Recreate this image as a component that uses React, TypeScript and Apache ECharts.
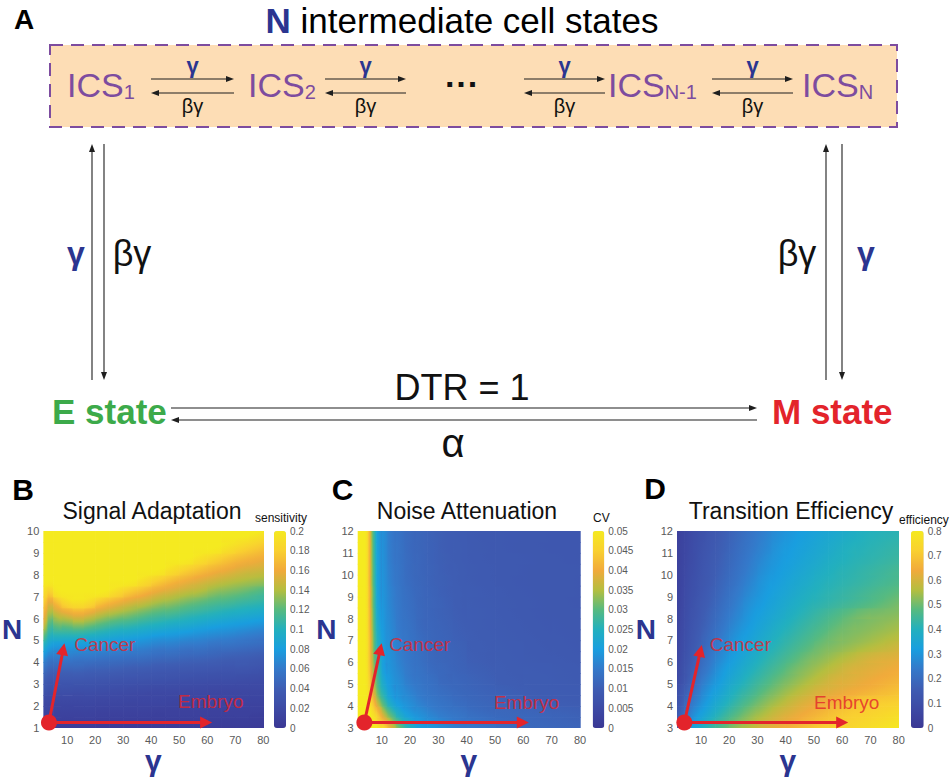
import React, { useEffect, useRef } from 'react';
import * as echarts from 'echarts';

// ---------- Panel B: Signal Adaptation (sensitivity), columns along gamma, values bottom (N=1) -> top (N=10)
const gammaEdgesB = [1.5, 3, 5, 8, 12, 16, 20, 25, 30, 35, 40, 45, 50, 55, 60, 65, 70, 75, 80];
const nEdgesB = [1, 1.5, 2, 2.5, 3, 3.5, 4, 4.5, 5, 5.5, 6, 6.5, 7, 7.5, 8, 8.5, 9, 9.5, 10];
const sensitivityByGamma = [
  [0.008, 0.014, 0.019, 0.029, 0.039, 0.053, 0.07, 0.093, 0.118, 0.142, 0.158, 0.173, 0.188, 0.2, 0.2, 0.2, 0.2, 0.2],
  [0.008, 0.013, 0.018, 0.026, 0.035, 0.047, 0.062, 0.082, 0.102, 0.118, 0.138, 0.158, 0.183, 0.2, 0.2, 0.2, 0.2, 0.2],
  [0.008, 0.013, 0.018, 0.026, 0.035, 0.047, 0.062, 0.078, 0.103, 0.126, 0.148, 0.173, 0.198, 0.2, 0.2, 0.2, 0.2, 0.2],
  [0.008, 0.013, 0.018, 0.026, 0.035, 0.047, 0.062, 0.078, 0.103, 0.128, 0.157, 0.188, 0.2, 0.2, 0.2, 0.2, 0.2, 0.2],
  [0.008, 0.013, 0.018, 0.025, 0.035, 0.047, 0.06, 0.078, 0.103, 0.133, 0.163, 0.193, 0.2, 0.2, 0.2, 0.2, 0.2, 0.2],
  [0.008, 0.013, 0.018, 0.025, 0.034, 0.045, 0.059, 0.076, 0.1, 0.128, 0.157, 0.188, 0.2, 0.2, 0.2, 0.2, 0.2, 0.2],
  [0.007, 0.012, 0.017, 0.024, 0.033, 0.044, 0.057, 0.075, 0.096, 0.12, 0.146, 0.174, 0.2, 0.2, 0.2, 0.2, 0.2, 0.2],
  [0.007, 0.012, 0.017, 0.023, 0.032, 0.043, 0.056, 0.072, 0.091, 0.113, 0.138, 0.163, 0.19, 0.2, 0.2, 0.2, 0.2, 0.2],
  [0.007, 0.012, 0.016, 0.022, 0.031, 0.041, 0.054, 0.069, 0.088, 0.109, 0.131, 0.153, 0.178, 0.2, 0.2, 0.2, 0.2, 0.2],
  [0.007, 0.012, 0.016, 0.021, 0.03, 0.04, 0.053, 0.067, 0.084, 0.104, 0.124, 0.146, 0.168, 0.191, 0.2, 0.2, 0.2, 0.2],
  [0.007, 0.011, 0.016, 0.02, 0.029, 0.038, 0.05, 0.063, 0.08, 0.1, 0.118, 0.138, 0.158, 0.18, 0.2, 0.2, 0.2, 0.2],
  [0.007, 0.011, 0.015, 0.02, 0.028, 0.037, 0.049, 0.062, 0.078, 0.096, 0.115, 0.133, 0.151, 0.17, 0.191, 0.2, 0.2, 0.2],
  [0.007, 0.011, 0.015, 0.019, 0.027, 0.036, 0.047, 0.059, 0.075, 0.093, 0.11, 0.127, 0.145, 0.162, 0.182, 0.2, 0.2, 0.2],
  [0.007, 0.011, 0.015, 0.019, 0.026, 0.035, 0.046, 0.058, 0.072, 0.089, 0.106, 0.122, 0.14, 0.155, 0.173, 0.192, 0.2, 0.2],
  [0.007, 0.011, 0.015, 0.018, 0.025, 0.034, 0.044, 0.055, 0.069, 0.085, 0.102, 0.117, 0.133, 0.149, 0.165, 0.184, 0.2, 0.2],
  [0.007, 0.011, 0.015, 0.018, 0.025, 0.033, 0.042, 0.054, 0.067, 0.082, 0.098, 0.114, 0.129, 0.144, 0.159, 0.175, 0.193, 0.2],
  [0.007, 0.011, 0.014, 0.018, 0.024, 0.033, 0.041, 0.052, 0.064, 0.079, 0.095, 0.11, 0.125, 0.14, 0.153, 0.168, 0.185, 0.2],
  [0.006, 0.01, 0.014, 0.018, 0.023, 0.031, 0.039, 0.05, 0.061, 0.076, 0.092, 0.107, 0.12, 0.137, 0.15, 0.163, 0.178, 0.194],
];

// ---------- Panel C: Noise Attenuation (CV), rows along N (3 -> 12), values left (gamma small) -> right
const gammaEdgesC = [1.5, 3, 5, 6, 7, 8, 10, 12, 15, 18, 22, 26, 30, 35, 40, 50, 60, 70, 80];
const nEdgesC = [3, 3.5, 4, 4.5, 5, 5.5, 6, 6.5, 7, 7.5, 8, 8.5, 9, 9.5, 10, 10.5, 11, 11.5, 12];
const cvByN = [
  [0.05, 0.05, 0.05, 0.05, 0.05, 0.046, 0.042, 0.035, 0.028, 0.023, 0.0195, 0.018, 0.0164, 0.0149, 0.0138, 0.0123, 0.0117, 0.0112],
  [0.05, 0.05, 0.05, 0.048, 0.0453, 0.0408, 0.0336, 0.0274, 0.0222, 0.0191, 0.0174, 0.0158, 0.0146, 0.0137, 0.0124, 0.0117, 0.0112, 0.0107],
  [0.05, 0.05, 0.048, 0.0445, 0.04, 0.0333, 0.0272, 0.0217, 0.019, 0.0174, 0.0156, 0.0144, 0.0135, 0.0125, 0.0116, 0.0109, 0.0101, 0.0098],
  [0.05, 0.05, 0.0465, 0.0411, 0.0358, 0.0289, 0.0237, 0.0194, 0.0179, 0.0161, 0.0146, 0.0136, 0.0126, 0.0118, 0.0111, 0.0103, 0.0098, 0.0096],
  [0.05, 0.05, 0.0455, 0.0389, 0.0331, 0.0272, 0.0214, 0.0189, 0.0171, 0.0151, 0.014, 0.013, 0.0119, 0.0115, 0.0107, 0.0099, 0.0097, 0.0094],
  [0.05, 0.05, 0.0447, 0.0381, 0.0316, 0.0259, 0.0199, 0.0183, 0.0164, 0.0146, 0.0135, 0.0124, 0.0117, 0.0111, 0.0103, 0.0098, 0.0096, 0.0093],
  [0.05, 0.05, 0.0443, 0.0372, 0.0303, 0.0248, 0.0196, 0.0179, 0.0158, 0.0143, 0.0131, 0.0119, 0.0114, 0.0109, 0.01, 0.0097, 0.0093, 0.009],
  [0.05, 0.05, 0.0442, 0.0364, 0.0296, 0.0238, 0.0193, 0.0175, 0.0154, 0.0141, 0.0128, 0.0118, 0.0113, 0.0107, 0.0099, 0.0096, 0.0092, 0.0089],
  [0.05, 0.05, 0.0439, 0.0362, 0.0292, 0.0231, 0.0191, 0.0172, 0.015, 0.0138, 0.0124, 0.0116, 0.0111, 0.0104, 0.0098, 0.0094, 0.009, 0.0088],
  [0.05, 0.05, 0.0433, 0.0352, 0.0285, 0.022, 0.0188, 0.0168, 0.0147, 0.0135, 0.012, 0.0115, 0.0109, 0.0102, 0.0097, 0.0093, 0.0089, 0.0087],
  [0.05, 0.05, 0.0433, 0.035, 0.0281, 0.0212, 0.0186, 0.0165, 0.0145, 0.0132, 0.0119, 0.0113, 0.0107, 0.01, 0.0097, 0.0092, 0.0088, 0.0087],
  [0.05, 0.05, 0.0429, 0.0343, 0.0276, 0.0205, 0.0184, 0.0162, 0.0144, 0.013, 0.0118, 0.0112, 0.0106, 0.0099, 0.0096, 0.0091, 0.0088, 0.0086],
  [0.05, 0.05, 0.0429, 0.0343, 0.0275, 0.02, 0.0182, 0.016, 0.0142, 0.0128, 0.0117, 0.0111, 0.0104, 0.0099, 0.0095, 0.009, 0.0087, 0.0086],
  [0.05, 0.05, 0.0425, 0.0336, 0.0269, 0.0199, 0.018, 0.0156, 0.014, 0.0125, 0.0116, 0.0109, 0.0103, 0.0098, 0.0093, 0.0089, 0.0087, 0.0086],
  [0.05, 0.05, 0.0425, 0.0336, 0.0268, 0.0198, 0.0178, 0.0154, 0.0139, 0.0124, 0.0115, 0.0109, 0.0102, 0.0098, 0.0093, 0.0089, 0.0087, 0.0086],
  [0.05, 0.05, 0.0425, 0.0333, 0.0265, 0.0197, 0.0177, 0.0151, 0.0138, 0.0123, 0.0115, 0.0108, 0.0101, 0.0097, 0.0092, 0.0089, 0.0087, 0.0085],
  [0.05, 0.05, 0.0425, 0.0333, 0.0264, 0.0196, 0.0176, 0.015, 0.0137, 0.0122, 0.0114, 0.0108, 0.01, 0.0097, 0.0091, 0.0088, 0.0086, 0.0085],
  [0.05, 0.05, 0.0425, 0.033, 0.0263, 0.0195, 0.0175, 0.0149, 0.0136, 0.0121, 0.0114, 0.0107, 0.01, 0.0096, 0.009, 0.0088, 0.0086, 0.0085],
];

// ---------- Panel D: Transition Efficiency, rows along N (3 -> 12)
const gammaEdgesD = [1.5, 4, 7, 10, 15, 20, 25, 30, 35, 40, 45, 50, 55, 60, 65, 70, 75, 80];
const nEdgesD = [3, 3.5, 4, 4.5, 5, 5.5, 6, 6.5, 7, 7.5, 8, 8.5, 9, 9.5, 10, 10.5, 11, 11.5, 12];
const efficiencyByN = [
  [0.204, 0.279, 0.335, 0.396, 0.456, 0.51, 0.55, 0.59, 0.619, 0.644, 0.67, 0.695, 0.712, 0.727, 0.742, 0.757, 0.772],
  [0.166, 0.233, 0.295, 0.35, 0.413, 0.466, 0.513, 0.55, 0.587, 0.615, 0.639, 0.662, 0.686, 0.705, 0.718, 0.731, 0.744],
  [0.14, 0.204, 0.257, 0.318, 0.376, 0.428, 0.474, 0.515, 0.549, 0.583, 0.611, 0.633, 0.654, 0.676, 0.698, 0.706, 0.712],
  [0.124, 0.176, 0.228, 0.292, 0.347, 0.4, 0.441, 0.482, 0.517, 0.548, 0.578, 0.604, 0.619, 0.634, 0.648, 0.663, 0.678],
  [0.1, 0.151, 0.206, 0.264, 0.324, 0.371, 0.415, 0.452, 0.489, 0.519, 0.547, 0.575, 0.601, 0.614, 0.627, 0.64, 0.653],
  [0.093, 0.137, 0.185, 0.241, 0.304, 0.348, 0.391, 0.428, 0.462, 0.497, 0.523, 0.548, 0.573, 0.598, 0.611, 0.622, 0.634],
  [0.086, 0.126, 0.17, 0.223, 0.282, 0.328, 0.368, 0.406, 0.438, 0.47, 0.501, 0.523, 0.545, 0.567, 0.589, 0.604, 0.613],
  [0.08, 0.118, 0.156, 0.207, 0.262, 0.311, 0.348, 0.385, 0.417, 0.446, 0.475, 0.502, 0.518, 0.534, 0.55, 0.566, 0.582],
  [0.076, 0.113, 0.147, 0.193, 0.244, 0.295, 0.331, 0.366, 0.4, 0.427, 0.453, 0.48, 0.503, 0.516, 0.528, 0.541, 0.554],
  [0.07, 0.107, 0.139, 0.18, 0.229, 0.276, 0.316, 0.348, 0.381, 0.41, 0.435, 0.459, 0.484, 0.504, 0.514, 0.524, 0.535],
  [0.067, 0.102, 0.131, 0.17, 0.217, 0.261, 0.304, 0.334, 0.363, 0.393, 0.417, 0.44, 0.462, 0.484, 0.502, 0.509, 0.517],
  [0.063, 0.097, 0.125, 0.161, 0.205, 0.248, 0.291, 0.321, 0.349, 0.376, 0.402, 0.418, 0.434, 0.449, 0.465, 0.481, 0.497],
  [0.061, 0.092, 0.119, 0.153, 0.195, 0.236, 0.276, 0.311, 0.336, 0.361, 0.387, 0.407, 0.421, 0.435, 0.449, 0.464, 0.478],
  [0.058, 0.087, 0.114, 0.145, 0.185, 0.224, 0.264, 0.302, 0.325, 0.349, 0.372, 0.396, 0.41, 0.422, 0.434, 0.447, 0.459],
  [0.057, 0.083, 0.109, 0.14, 0.177, 0.215, 0.252, 0.29, 0.316, 0.338, 0.36, 0.382, 0.402, 0.414, 0.426, 0.437, 0.449],
  [0.054, 0.079, 0.105, 0.135, 0.171, 0.207, 0.243, 0.278, 0.308, 0.328, 0.349, 0.369, 0.39, 0.405, 0.415, 0.425, 0.435],
  [0.053, 0.076, 0.102, 0.13, 0.165, 0.2, 0.234, 0.267, 0.3, 0.32, 0.339, 0.359, 0.379, 0.398, 0.408, 0.417, 0.426],
  [0.05, 0.073, 0.098, 0.125, 0.159, 0.193, 0.226, 0.258, 0.29, 0.312, 0.331, 0.349, 0.367, 0.385, 0.401, 0.409, 0.416],
];

// ---------- ticks, colour-bar ranges, annotations
const gammaTicks = [10, 20, 30, 40, 50, 60, 70, 80];
const colorbarMax = [0.2, 0.05, 0.8];
const colorbarStep = [0.02, 0.005, 0.1];
const nRanges = [[1, 10], [3, 12], [3, 12]];
const startPoints = [[3.5, 1.25], [3.85, 3.25], [4.1, 3.25]];
const cancerTips = [[8.6, 4.6], [9.5, 6.6], [9.8, 6.52]];
const embryoTips = [[59.6, 1.25], [59.8, 3.25], [60, 3.25]];
const cancerLabelAt = [[12.5, 4.8], [12.6, 6.8], [13.1, 6.8]];
const embryoLabelAt = [[49.6, 2.19], [49.6, 4.15], [50, 4.15]];
const panelTitles = ['Signal Adaptation', 'Noise Attenuation', 'Transition Efficiency'];
const colorbarTitles = ['sensitivity', 'CV', 'efficiency'];
const panelLetters = ['B', 'C', 'D'];

const FONT = '"Liberation Sans", Arial, Helvetica, sans-serif';
const NAVY = '#2B3590';
const PURPLE = '#7D4C9F';
const RED = '#E3242B';
const GREEN = '#3CAA4A';
const INK = '#1e1e1e';
const PARULA = ['#3a3794', '#3d4aa5', '#3e5db3', '#3479ca', '#199edf', '#22b0be', '#56ba80', '#b4be3f', '#f1aa3b', '#f9d030', '#f5ea20'];

const PARULA_RGB = PARULA.map((h) => [1, 3, 5].map((o) => parseInt(h.slice(o, o + 2), 16)));
function colorAt(t: number) {
  const c = Math.max(0, Math.min(1, t)) * (PARULA_RGB.length - 1);
  const i = Math.min(PARULA_RGB.length - 2, Math.floor(c));
  const f = c - i;
  const a = PARULA_RGB[i], b = PARULA_RGB[i + 1];
  return `rgb(${[0, 1, 2].map((k) => Math.round(a[k] + (b[k] - a[k]) * f)).join(',')})`;
}

type Panel = { gE: number[]; nE: number[]; at: (i: number, j: number) => number; max: number };
const panels: Panel[] = [
  { gE: gammaEdgesB, nE: nEdgesB, at: (i, j) => sensitivityByGamma[i][j], max: colorbarMax[0] },
  { gE: gammaEdgesC, nE: nEdgesC, at: (i, j) => cvByN[j][i], max: colorbarMax[1] },
  { gE: gammaEdgesD, nE: nEdgesD, at: (i, j) => efficiencyByN[j][i], max: colorbarMax[2] },
];

function cellsOf(p: Panel) {
  const out: number[][] = [];
  for (let j = 0; j < p.nE.length - 1; j++)
    for (let i = 0; i < p.gE.length - 1; i++) out.push([p.gE[i], p.gE[i + 1], p.nE[j], p.nE[j + 1], p.at(i, j), i, j]);
  return out;
}

// each cell is filled with a shading that follows the local slope between neighbouring cells
function makeRender(p: Panel) {
  const nx = p.gE.length - 1, ny = p.nE.length - 1;
  const gc = (i: number) => (p.gE[i] + p.gE[i + 1]) / 2;
  const nc = (j: number) => (p.nE[j] + p.nE[j + 1]) / 2;
  return (_params: any, api: any) => {
    const g0 = api.value(0), g1 = api.value(1), n0 = api.value(2), n1 = api.value(3);
    const v = api.value(4), i = api.value(5), j = api.value(6);
    const p0 = api.coord([g0, n1]);
    const p1 = api.coord([g1, n0]);
    const w = p1[0] - p0[0], h = p1[1] - p0[1];
    const sx = w / (g1 - g0), sy = h / (n1 - n0);
    const iL = Math.max(0, i - 1), iR = Math.min(nx - 1, i + 1);
    const jB = Math.max(0, j - 1), jT = Math.min(ny - 1, j + 1);
    const dg = (p.at(iR, j) - p.at(iL, j)) / (gc(iR) - gc(iL));
    const dn = (p.at(i, jT) - p.at(i, jB)) / (nc(jT) - nc(jB));
    const gx = dg / sx, gy = -dn / sy;
    const gm = Math.hypot(gx, gy);
    let fill: any = colorAt(v / p.max);
    if (gm > 1e-9) {
      const ux = gx / gm, uy = gy / gm;
      const L = Math.abs(ux) * w / 2 + Math.abs(uy) * h / 2;
      const cx = p0[0] + w / 2, cy = p0[1] + h / 2;
      const dv = gm * L;
      const stops = [0, 0.25, 0.5, 0.75, 1].map((o) => ({ offset: o, color: colorAt((v + (o * 2 - 1) * dv) / p.max) }));
      fill = new echarts.graphic.LinearGradient(cx - ux * L, cy - uy * L, cx + ux * L, cy + uy * L, stops, true);
    }
    return {
      type: 'rect',
      shape: { x: p0[0], y: p0[1], width: w + 0.7, height: h + 0.7 },
      style: { fill },
    };
  };
}

// ---------- layout of panels B-D
const plotBoxes = [
  { left: 40.7, top: 531, width: 222.6, height: 197 },
  { left: 357.7, top: 531, width: 222.3, height: 197 },
  { left: 677, top: 531, width: 221.7, height: 197 },
];
const barBoxes = [
  { left: 274, top: 531, width: 12, height: 197 },
  { left: 592.7, top: 531, width: 11.6, height: 197 },
  { left: 911, top: 531, width: 12.7, height: 197 },
];

function text(str: string, x: number, y: number, o: any = {}) {
  return {
    type: 'text', x, y, silent: true, scaleX: o.sx ?? 1,
    style: {
      text: str, fontFamily: FONT, fontSize: o.size ?? 20, fontWeight: o.bold ? 'bold' : 'normal',
      fill: o.color ?? INK, align: o.align ?? 'center', verticalAlign: 'middle', rich: o.rich,
    },
  };
}
function arrowH(xFrom: number, xTo: number, y: number) {
  const d = Math.sign(xTo - xFrom);
  return [
    { type: 'line', silent: true, shape: { x1: xFrom, y1: y, x2: xTo - d * 4, y2: y }, style: { stroke: INK, lineWidth: 1.1 } },
    { type: 'polygon', silent: true, shape: { points: [[xTo, y], [xTo - d * 8, y - 3], [xTo - d * 8, y + 3]] }, style: { fill: INK } },
  ];
}
function arrowV(x: number, yFrom: number, yTo: number) {
  const d = Math.sign(yTo - yFrom);
  return [
    { type: 'line', silent: true, shape: { x1: x, y1: yFrom, x2: x, y2: yTo - d * 4 }, style: { stroke: INK, lineWidth: 1.1 } },
    { type: 'polygon', silent: true, shape: { points: [[x, yTo], [x - 3, yTo - d * 8], [x + 3, yTo - d * 8]] }, style: { fill: INK } },
  ];
}
function ics(sub: string, x: number) {
  return text(`{m|ICS}{s|${sub}}`, x, 85, {
    align: 'left',
    rich: {
      m: { fontSize: 34, fontFamily: FONT, fill: PURPLE },
      s: { fontSize: 20, fontFamily: FONT, fill: PURPLE, verticalAlign: 'bottom' },
    },
  });
}

function buildGraphic() {
  const els: any[] = [];
  els.push(text('A', 24, 19, { size: 28, bold: true, color: '#000' }));
  els.push(text('{n|N}{t| intermediate cell states}', 462, 20, {
    rich: {
      n: { fontSize: 35, fontFamily: FONT, fontWeight: 'bold', fill: NAVY },
      t: { fontSize: 35, fontFamily: FONT, fill: '#000' },
    },
  }));
  els.push({
    type: 'rect', silent: true, shape: { x: 50, y: 45, width: 847, height: 82 },
    style: { fill: '#FDDDB5', stroke: PURPLE, lineWidth: 2, lineDash: [13, 8] },
  });
  els.push(ics('1', 67), ics('2', 248), ics('N-1', 608), ics('N', 802));
  els.push(text('···', 462, 84, { size: 34, bold: true, color: '#111' }));
  const pairs = [[151, 234], [325, 406], [524, 605], [712, 793]];
  pairs.forEach(([a, b]) => {
    els.push(...arrowH(a, b, 79), ...arrowH(b, a, 93));
    els.push(text('γ', (a + b) / 2, 65, { size: 22, bold: true, color: NAVY }));
    els.push(text('βγ', (a + b) / 2, 106, { size: 20, color: '#111' }));
  });
  els.push(...arrowV(92, 380, 144), ...arrowV(104, 144, 380), ...arrowV(826, 380, 144), ...arrowV(842, 144, 380));
  els.push(text('γ', 76, 253, { size: 32, bold: true, color: NAVY }));
  els.push(text('βγ', 132, 253, { size: 36, color: '#111' }));
  els.push(text('βγ', 797, 253, { size: 36, color: '#111' }));
  els.push(text('γ', 866, 253, { size: 32, bold: true, color: NAVY }));
  els.push(text('E state', 52, 411, { size: 35, bold: true, color: GREEN, align: 'left' }));
  els.push(text('M state', 772, 411, { size: 35, bold: true, color: RED, align: 'left' }));
  els.push(...arrowH(171, 757, 408), ...arrowH(757, 171, 420));
  els.push(text('DTR = 1', 462, 387, { size: 36, color: '#111' }));
  els.push(text('α', 453, 443, { size: 40, color: '#111' }));

  const letterPos = [[23, 489], [342.5, 489], [655, 488]];
  const titleX = [152, 467, 791];
  const cbTitlePos = [[255, 518], [593, 518], [899, 520]];
  for (let k = 0; k < 3; k++) {
    els.push(text(panelLetters[k], letterPos[k][0], letterPos[k][1], { size: 30, bold: true, color: '#000' }));
    els.push(text(panelTitles[k], titleX[k], 511, { size: 23, color: '#111' }));
    els.push(text(colorbarTitles[k], cbTitlePos[k][0], cbTitlePos[k][1], { size: 12, color: '#111', align: 'left' }));
  }
  return els;
}

function buildOption() {
  const grid: any[] = [...plotBoxes, ...barBoxes];
  const xAxis: any[] = [];
  const yAxis: any[] = [];
  const series: any[] = [];
  const visualMap: any[] = [];
  for (let k = 0; k < 3; k++) {
    xAxis.push({
      type: 'value', gridIndex: k, min: 1.5, max: 80,
      axisLine: { show: false }, axisTick: { show: false }, splitLine: { show: false },
      axisLabel: { customValues: gammaTicks, fontSize: 11, color: '#5a5a5a', fontFamily: FONT, margin: 6 },
      name: 'γ', nameLocation: 'middle', nameGap: 12,
      nameTextStyle: { fontSize: 30, fontWeight: 'bold', color: NAVY, fontFamily: FONT },
    });
    yAxis.push({
      type: 'value', gridIndex: k, min: nRanges[k][0], max: nRanges[k][1], interval: 1,
      axisLine: { show: false }, axisTick: { show: false }, splitLine: { show: false },
      axisLabel: { fontSize: 11, color: '#5a5a5a', fontFamily: FONT, margin: 4 },
      name: 'N', nameLocation: 'middle', nameRotate: 0, nameGap: 14,
      nameTextStyle: { fontSize: 28, fontWeight: 'bold', color: NAVY, fontFamily: FONT },
    });
  }
  for (let k = 0; k < 3; k++) {
    xAxis.push({ type: 'value', gridIndex: 3 + k, min: 0, max: 1, show: false });
    yAxis.push({
      type: 'value', gridIndex: 3 + k, position: 'right', min: 0, max: colorbarMax[k], interval: colorbarStep[k],
      axisLine: { show: false }, axisTick: { show: false }, splitLine: { show: false },
      axisLabel: { fontSize: 10, color: '#5a5a5a', fontFamily: FONT, margin: 4 },
    });
  }
  for (let k = 0; k < 3; k++) {
    series.push({
      type: 'custom', name: panelTitles[k], xAxisIndex: k, yAxisIndex: k, renderItem: makeRender(panels[k]),
      data: cellsOf(panels[k]), encode: { x: [0, 1], y: [2, 3] }, clip: true, silent: true, z: 1,
    });
    visualMap.push({
      type: 'continuous', seriesIndex: k, dimension: 4, min: 0, max: colorbarMax[k],
      calculable: false, show: true, hoverLink: false, padding: 0,
      left: barBoxes[k].left, top: barBoxes[k].top, itemWidth: barBoxes[k].width, itemHeight: barBoxes[k].height,
      inRange: { color: PARULA },
    });
  }
  for (let k = 0; k < 3; k++) {
    series.push({
      type: 'lines', coordinateSystem: 'cartesian2d', xAxisIndex: k, yAxisIndex: k, silent: true, z: 5,
      symbol: ['none', 'triangle'], symbolSize: 12,
      lineStyle: { color: RED, width: 3, opacity: 1, curveness: 0 },
      data: [{ coords: [startPoints[k], cancerTips[k]] }, { coords: [startPoints[k], embryoTips[k]] }],
    });
    series.push({
      type: 'scatter', xAxisIndex: k, yAxisIndex: k, silent: true, z: 6, symbolSize: 16,
      itemStyle: { color: RED, opacity: 1 }, data: [startPoints[k]],
    });
    series.push({
      type: 'scatter', xAxisIndex: k, yAxisIndex: k, silent: true, z: 6, symbolSize: 0,
      itemStyle: { color: 'rgba(0,0,0,0)' },
      label: { show: true, position: 'right', distance: 0, formatter: '{b}', color: RED, fontSize: 19, fontFamily: FONT },
      data: [{ name: 'Cancer', value: cancerLabelAt[k] }, { name: 'Embryo', value: embryoLabelAt[k] }],
    });
  }
  return {
    animation: false,
    backgroundColor: '#ffffff',
    textStyle: { fontFamily: FONT },
    grid, xAxis, yAxis, series, visualMap,
    graphic: { elements: buildGraphic() },
  };
}

export default function App() {
  const ref = useRef<HTMLDivElement>(null);
  useEffect(() => {
    const chart = echarts.init(ref.current as HTMLDivElement, null, { renderer: 'svg' });
    chart.setOption(buildOption() as any);
    return () => chart.dispose();
  }, []);
  return <div ref={ref} style={{ position: 'absolute', left: 0, top: 0, width: 952, height: 778, background: '#fff' }} />;
}
